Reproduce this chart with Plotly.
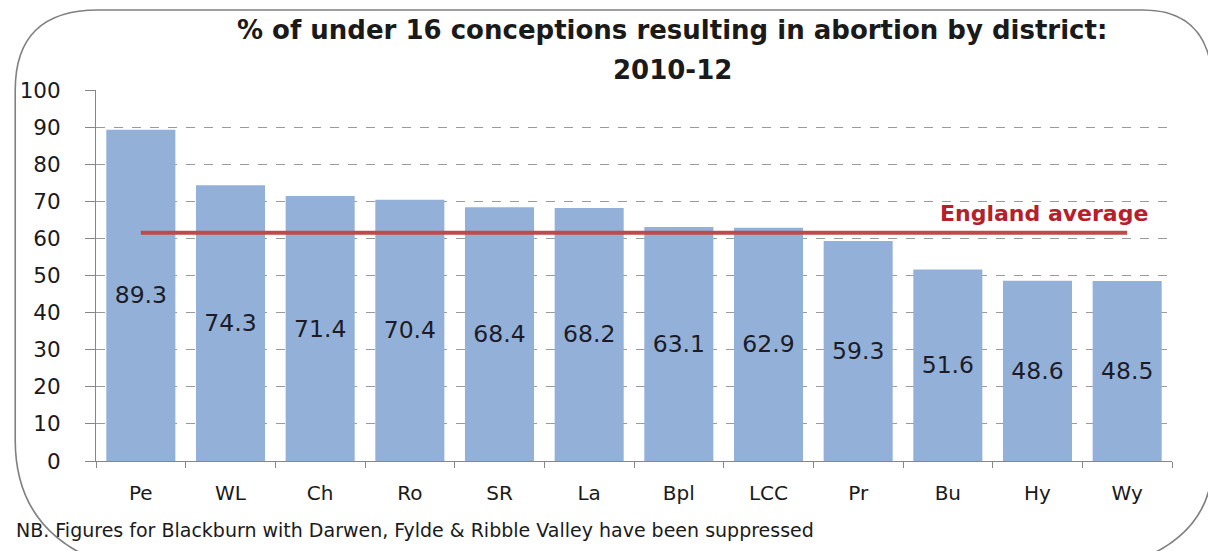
import plotly.graph_objects as go

districts = ["Pe", "WL", "Ch", "Ro", "SR", "La", "Bpl", "LCC", "Pr", "Bu", "Hy", "Wy"]
pct_abortion = [89.3, 74.3, 71.4, 70.4, 68.4, 68.2, 63.1, 62.9, 59.3, 51.6, 48.6, 48.5]
england_average = 61.5
y_ticks = [0, 10, 20, 30, 40, 50, 60, 70, 80, 90, 100]

W, H = 1216, 551
OFF = 8  # page body margin
L, T = 93 - OFF, 90 - OFF
PW, PH = 1079, 371
R = W - L - PW
B = H - T - PH


def px(x):
    return (x - OFF - L) / PW


def py(y):
    return (T + PH - (y - OFF)) / PH


fig = go.Figure()
fig.add_trace(go.Bar(
    x=districts, y=pct_abortion,
    marker=dict(color="#93B1D8", line=dict(width=0)),
    text=[f"{v:.1f}" for v in pct_abortion],
    textposition="inside", insidetextanchor="middle",
    textfont=dict(family="DejaVu Sans", size=23.5, color="#1C1C28"),
    showlegend=False,
))
fig.add_trace(go.Scatter(
    x=[districts[0], districts[-1]], y=[england_average, england_average],
    mode="lines", line=dict(color="#BD4B48", width=4), showlegend=False,
))

# rounded border (screen pixel coordinates converted to paper)
pts = [
    ("M", 12, 90), ("Q", 12, 10, 95, 10), ("L", 1143, 10), ("Q", 1213, 10, 1213, 90),
    ("L", 1213, 460), ("Q", 1213, 580, 1000, 580), ("L", 220, 580),
    ("Q", 12, 580, 12, 440), ("Z",),
]
path = ""
for p in pts:
    cmd = p[0]
    coords = p[1:]
    s = cmd
    for i in range(0, len(coords), 2):
        s += f" {px(coords[i]):.5f},{py(coords[i+1]):.5f}"
    path += s + " "
fig.add_shape(type="path", path=path.strip(), xref="paper", yref="paper",
              line=dict(color="#808080", width=1.6), layer="above")

fig.add_annotation(x=px(671), y=py(30), xref="paper", yref="paper",
                   text="<b>% of under 16 conceptions resulting in abortion by district:</b>",
                   showarrow=False, xanchor="center", yanchor="middle",
                   font=dict(family="DejaVu Sans", size=26, color="#1A1A1A"))
fig.add_annotation(x=px(671), y=py(70), xref="paper", yref="paper",
                   text="<b>2010-12</b>",
                   showarrow=False, xanchor="center", yanchor="middle",
                   font=dict(family="DejaVu Sans", size=26, color="#1A1A1A"))
fig.add_annotation(x=px(1044), y=py(213), xref="paper", yref="paper",
                   text="<b>England average</b>", showarrow=False,
                   xanchor="center", yanchor="middle",
                   font=dict(family="DejaVu Sans", size=22, color="#B5202B"))
fig.add_annotation(x=px(11), y=py(530), xref="paper", yref="paper",
                   text="NB. Figures for Blackburn with Darwen, Fylde & Ribble Valley have been suppressed",
                   showarrow=False, xanchor="left", yanchor="middle",
                   font=dict(family="DejaVu Sans", size=19, color="#1A1A1A"))

fig.update_layout(
    width=W, height=H,
    margin=dict(l=L, r=R, t=T, b=B, pad=0),
    paper_bgcolor="white", plot_bgcolor="white",
    bargap=0.23,
    xaxis=dict(showgrid=False, showline=True, linecolor="#868686", linewidth=1,
               ticks="outside", tickson="boundaries", ticklen=6, tickcolor="#868686",
               ticklabelstandoff=14,
               tickfont=dict(family="DejaVu Sans", size=20, color="#1A1A1A"),
               fixedrange=True),
    yaxis=dict(range=[0, 100], tickvals=y_ticks, showgrid=True, gridcolor="#9A9A9A",
               griddash="dash", gridwidth=1, showline=True, linecolor="#868686",
               linewidth=1, ticks="outside", ticklen=10, tickcolor="#868686",
               ticklabelstandoff=20,
               tickfont=dict(family="DejaVu Sans", size=21.5, color="#1A1A1A"),
               zeroline=False, fixedrange=True),
)

fig.write_html("out.html")
